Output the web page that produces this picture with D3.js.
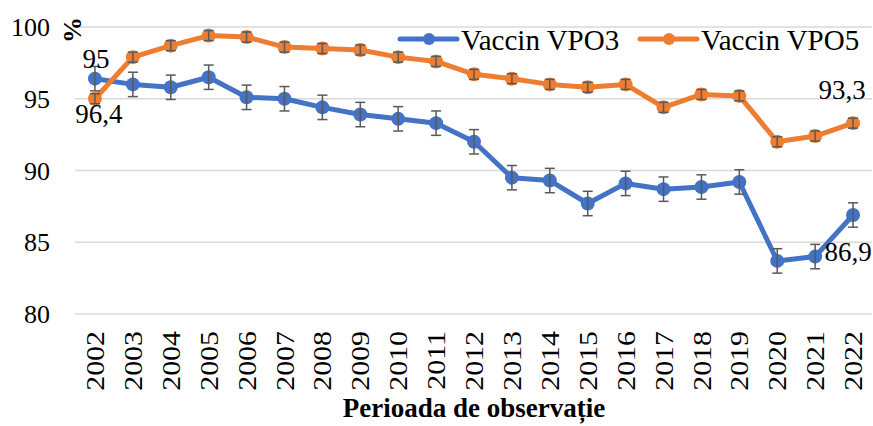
<!DOCTYPE html>
<html>
<head>
<meta charset="utf-8">
<script src="https://cdn.jsdelivr.net/npm/d3@7"></script>
</head>
<body style="margin:0; background:#fff">
<svg width="873" height="426"></svg>
<script>
const years = ["2002","2003","2004","2005","2006","2007","2008","2009","2010","2011",
    "2012","2013","2014","2015","2016","2017","2018","2019","2020","2021","2022"];
const vpo3 = [96.4, 96.0, 95.8, 96.5, 95.1, 95.0, 94.4, 93.9, 93.6, 93.3,
    92.0, 89.5, 89.3, 87.7, 89.1, 88.7, 88.85, 89.2, 83.7, 84.0, 86.9];
const vpo5 = [95.0, 97.9, 98.7, 99.4, 99.3, 98.6, 98.5, 98.4, 97.9, 97.6,
    96.7, 96.4, 96.0, 95.8, 96.0, 94.4, 95.3, 95.2, 92.0, 92.4, 93.3];
const err3 = 0.85;
const err5 = 0.35;
const yTicks = [80, 85, 90, 95, 100];

const font = "\"Liberation Serif\"";
const svg = d3.select("svg").style("font-family", font);
const width = 873;
const margin = { top: 27, right: 1, bottom: 112, left: 75 };
const height = 426;

const xScale = d3.scalePoint()
    .domain(years)
    .range([margin.left + 1, width - margin.right])
    .padding(0.5);

const yScale = d3.scaleLinear()
    .domain([80, 100])
    .range([height - margin.bottom, margin.top]);

// gridlines
svg.append("g")
    .selectAll("line")
    .data(yTicks)
    .join("line")
    .attr("x1", margin.left)
    .attr("x2", width - margin.right)
    .attr("y1", d => yScale(d))
    .attr("y2", d => yScale(d))
    .attr("stroke", "#d9d9d9")
    .attr("stroke-width", 1.5);

// y labels
svg.append("g")
    .selectAll("text")
    .data(yTicks)
    .join("text")
    .style("font-family", font)
    .attr("x", 50)
    .attr("y", d => yScale(d))
    .attr("dy", "0.35em")
    .attr("text-anchor", "end")
    .attr("font-size", 26)
    .text(d => d);

// x labels
svg.append("g")
    .selectAll("text")
    .data(years)
    .join("text")
    .style("font-family", font)
    .attr("transform", d => `translate(${xScale(d)}, 331) rotate(-90) scale(1.15, 1)`)
    .attr("dy", "0.35em")
    .attr("text-anchor", "end")
    .attr("font-size", 26)
    .text(d => d);

svg.append("text")
    .style("font-family", font)
    .attr("x", 474)
    .attr("y", 417)
    .attr("text-anchor", "middle")
    .attr("font-size", 27)
    .attr("font-weight", "bold")
    .text("Perioada de observație");

svg.append("text")
    .style("font-family", font)
    .attr("transform", "translate(72, 30) rotate(-90)")
    .attr("dy", "0.35em")
    .attr("text-anchor", "middle")
    .attr("font-size", 26)
    .attr("font-weight", "bold")
    .text("%");

const line = d3.line()
    .x((d, i) => xScale(years[i]))
    .y(d => yScale(d));

const series = [
    { values: vpo3, color: "#4472c4", err: err3 },
    { values: vpo5, color: "#ed7d31", err: err5 }
];

series.forEach(function(s) {
    svg.append("path")
        .datum(s.values)
        .attr("fill", "none")
        .attr("stroke", s.color)
        .attr("stroke-width", 5)
        .attr("stroke-linejoin", "round")
        .attr("d", line);

    svg.append("g")
        .selectAll("circle")
        .data(s.values)
        .join("circle")
        .attr("cx", (d, i) => xScale(years[i]))
        .attr("cy", d => yScale(d))
        .attr("r", 7)
        .attr("fill", s.color);
});

// error bars
series.forEach(function(s) {
    const g = svg.append("g")
        .attr("stroke", "#595959")
        .attr("stroke-width", 1.5);
    s.values.forEach(function(v, i) {
        const x = xScale(years[i]);
        const y1 = yScale(v + s.err);
        const y2 = yScale(v - s.err);
        g.append("line").attr("x1", x).attr("x2", x).attr("y1", y1).attr("y2", y2);
        g.append("line").attr("x1", x - 5).attr("x2", x + 5).attr("y1", y1).attr("y2", y1);
        g.append("line").attr("x1", x - 5).attr("x2", x + 5).attr("y1", y2).attr("y2", y2);
    });
});

// data labels
const labels = [
    { text: "95", x: xScale("2002") + 1, y: 59 },
    { text: "96,4", x: xScale("2002") + 4, y: 114 },
    { text: "93,3", x: xScale("2022") - 11, y: 90 },
    { text: "86,9", x: xScale("2022") - 5, y: 252 }
];

svg.append("g")
    .selectAll("text")
    .data(labels)
    .join("text")
    .style("font-family", font)
    .attr("x", d => d.x)
    .attr("y", d => d.y)
    .attr("dy", "0.35em")
    .attr("text-anchor", "middle")
    .attr("font-size", 27)
    .text(d => d.text);

// legend
const legend = [
    { name: "Vaccin VPO3", color: "#4472c4", x: 400 },
    { name: "Vaccin VPO5", color: "#ed7d31", x: 640 }
];

const lg = svg.append("g")
    .selectAll("g")
    .data(legend)
    .join("g")
    .attr("transform", d => `translate(${d.x}, 39)`);

lg.append("line")
    .attr("x1", 0)
    .attr("x2", 57)
    .attr("stroke", d => d.color)
    .attr("stroke-width", 5)
    .attr("stroke-linecap", "round");

lg.append("circle")
    .attr("cx", 29)
    .attr("r", 6)
    .attr("fill", d => d.color);

lg.append("text")
    .style("font-family", font)
    .attr("x", 61)
    .attr("y", 11)
    .attr("font-size", 29)
    .text(d => d.name);
</script>
</body>
</html>
